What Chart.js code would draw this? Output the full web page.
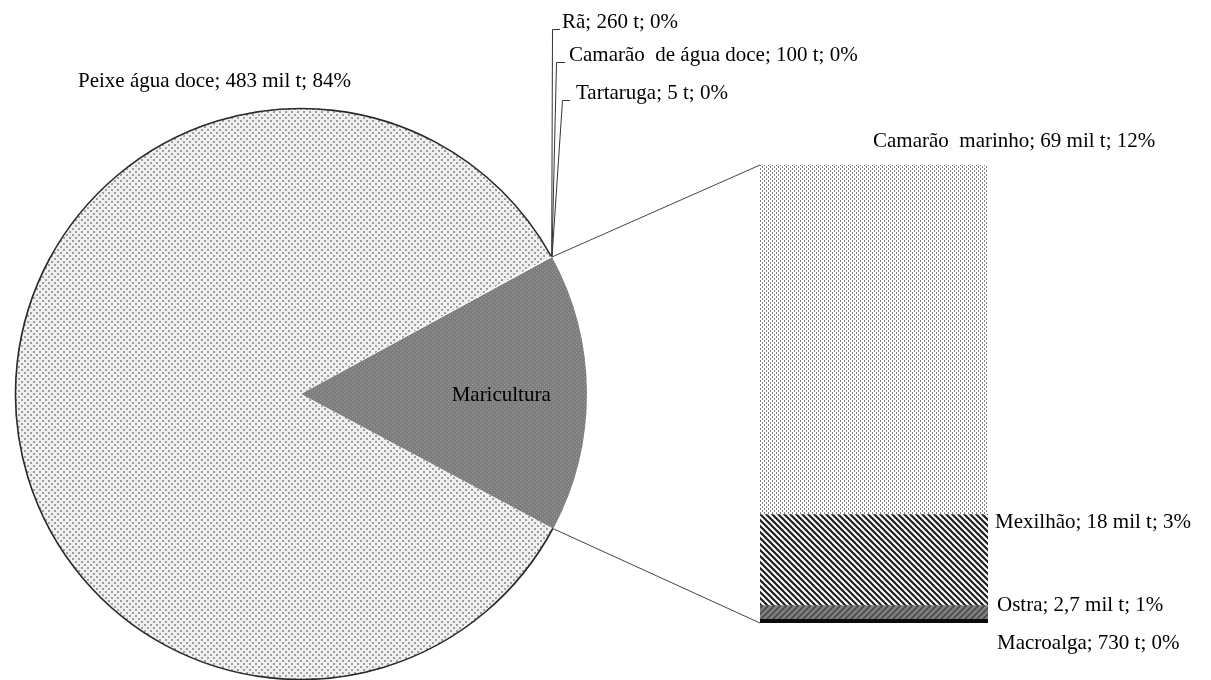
<!DOCTYPE html>
<html>
<head>
<meta charset="utf-8">
<script src="https://cdn.jsdelivr.net/npm/chart.js@4.4.1/dist/chart.umd.min.js"></script>
<style>
  html, body { margin: 0; padding: 0; background: #fff; }
  #wrap { position: relative; width: 1211px; height: 680px; overflow: hidden; background: #fff; }
  #wrap canvas { position: absolute; left: 0; top: 0; }
</style>
</head>
<body>
<div id="wrap">
  <canvas id="pie" width="1211" height="680"></canvas>
  <canvas id="bar" width="1211" height="680"></canvas>
</div>
<script>
// Produção aquícola, em mil toneladas
const pieCategories = ['Maricultura', 'Peixe água doce', 'Rã', 'Camarão de água doce', 'Tartaruga'];
const pieValues = [90.43, 483, 0.26, 0.1, 0.005];
const pieLabels = ['Maricultura', 'Peixe água doce; 483 mil t; 84%', 'Rã; 260 t; 0%', 'Camarão  de água doce; 100 t; 0%', 'Tartaruga; 5 t; 0%'];

// Detalhamento da maricultura (de baixo para cima na barra)
const barCategories = ['Macroalga', 'Ostra', 'Mexilhão', 'Camarão marinho'];
const barValues = [0.73, 2.7, 18, 69];
const barLabels = ['Macroalga; 730 t; 0%', 'Ostra; 2,7 mil t; 1%', 'Mexilhão; 18 mil t; 3%', 'Camarão  marinho; 69 mil t; 12%'];

const FONT = '21px "Liberation Serif", "Times New Roman", serif';

// --- fill patterns -------------------------------------------------------
function makePattern(ctx, w, h, draw) {
  const c = document.createElement('canvas');
  c.width = w; c.height = h;
  const g = c.getContext('2d');
  draw(g, w, h);
  return ctx.createPattern(c, 'repeat');
}

const pieCtx = document.getElementById('pie').getContext('2d');
const barCtx = document.getElementById('bar').getContext('2d');

const peixeFill = makePattern(pieCtx, 6, 6, (g) => {
  g.fillStyle = '#f0f0f0'; g.fillRect(0, 0, 6, 6);
  g.fillStyle = '#9e9e9e'; g.fillRect(0, 0, 2, 2); g.fillRect(3, 3, 2, 2);
});
const mariFill = makePattern(pieCtx, 4, 4, (g) => {
  g.fillStyle = '#7e7e7e'; g.fillRect(0, 0, 4, 4);
  g.fillStyle = '#9c9c9c'; g.fillRect(0, 0, 1, 1); g.fillRect(2, 2, 1, 1);
});

const camaraoFill = makePattern(barCtx, 4, 4, (g) => {
  g.fillStyle = '#ffffff'; g.fillRect(0, 0, 4, 4);
  g.fillStyle = '#808080'; g.fillRect(0, 0, 1, 2); g.fillRect(2, 2, 1, 2);
});
const mexilhaoFill = makePattern(barCtx, 6, 6, (g) => {
  g.fillStyle = '#ffffff'; g.fillRect(0, 0, 6, 6);
  g.strokeStyle = '#1e1e1e'; g.lineWidth = 2.2;
  g.beginPath();
  g.moveTo(-1, -1); g.lineTo(7, 7);
  g.moveTo(-1, 5); g.lineTo(1, 7);
  g.moveTo(5, -1); g.lineTo(7, 1);
  g.stroke();
});
const ostraFill = makePattern(barCtx, 6, 6, (g) => {
  g.fillStyle = '#808080'; g.fillRect(0, 0, 6, 6);
  g.strokeStyle = '#4a4a4a'; g.lineWidth = 1.6;
  g.beginPath();
  g.moveTo(-1, 7); g.lineTo(7, -1);
  g.moveTo(-1, 1); g.lineTo(1, -1);
  g.moveTo(5, 7); g.lineTo(7, 5);
  g.stroke();
});
const barFills = ['#0a0a0a', ostraFill, mexilhaoFill, camaraoFill];

// --- pie annotations -----------------------------------------------------
// label hooks for the tiny slices: [line end x, line end y, hook end x, text x, baseline]
const smallLabelPos = {
  2: [552, 29, 560, 562, 28],
  3: [556, 62, 565, 569, 61],
  4: [562, 100, 570, 576, 99]
};

const pieDecor = {
  id: 'pieDecor',
  afterDatasetsDraw(chart) {
    const ctx = chart.ctx;
    const arcs = chart.getDatasetMeta(0).data;
    ctx.save();

    // outline of the freshwater fish slice
    const p = arcs[1];
    ctx.beginPath();
    ctx.arc(p.x, p.y, p.outerRadius - 0.5, p.startAngle, p.endAngle);
    ctx.strokeStyle = '#2a2a2a';
    ctx.lineWidth = 1.6;
    ctx.stroke();

    ctx.font = FONT;
    ctx.fillStyle = '#000';

    // label inside the maricultura slice
    const m = arcs[0];
    const mid = (m.startAngle + m.endAngle) / 2;
    ctx.textAlign = 'center';
    ctx.textBaseline = 'middle';
    ctx.fillText(pieLabels[0], m.x + Math.cos(mid) * m.outerRadius * 0.7, m.y + Math.sin(mid) * m.outerRadius * 0.7 + 2);

    // freshwater fish label
    ctx.textAlign = 'left';
    ctx.textBaseline = 'alphabetic';
    ctx.fillText(pieLabels[1], 78, 87);

    // tiny slices with leader lines
    ctx.strokeStyle = '#333';
    ctx.lineWidth = 1;
    for (let i = 2; i <= 4; i++) {
      const a = arcs[i];
      const ang = (a.startAngle + a.endAngle) / 2;
      const sx = a.x + Math.cos(ang) * a.outerRadius;
      const sy = a.y + Math.sin(ang) * a.outerRadius;
      const [lx, ly, hx, tx, ty] = smallLabelPos[i];
      ctx.beginPath();
      ctx.moveTo(sx, sy);
      ctx.lineTo(lx + 0.5, ly + 0.5);
      ctx.lineTo(hx, ly + 0.5);
      ctx.stroke();
      ctx.fillText(pieLabels[i], tx, ty);
    }
    ctx.restore();
  }
};

const pieChart = new Chart(pieCtx, {
  type: 'pie',
  data: {
    labels: pieCategories,
    datasets: [{
      data: pieValues,
      backgroundColor: [mariFill, peixeFill, '#ffffff', '#ffffff', '#ffffff'],
      borderWidth: 0
    }]
  },
  options: {
    responsive: false,
    animation: false,
    rotation: 61.37,
    layout: { padding: { left: 15, right: 624, top: 108, bottom: 0 } },
    plugins: { legend: { display: false }, tooltip: { enabled: false } }
  },
  plugins: [pieDecor]
});

// --- bar annotations -----------------------------------------------------
const barLabelPos = [[997, 649], [997, 611], [995, 528], [873, 147]];

const barDecor = {
  id: 'barDecor',
  afterDatasetsDraw(chart) {
    const ctx = chart.ctx;
    const topBar = chart.getDatasetMeta(barValues.length - 1).data[0];
    const bottomBar = chart.getDatasetMeta(0).data[0];
    const left = topBar.x - topBar.width / 2;
    const m = pieChart.getDatasetMeta(0).data[0];

    ctx.save();
    // connectors from the maricultura slice to the bar
    ctx.strokeStyle = '#444';
    ctx.lineWidth = 1;
    ctx.beginPath();
    ctx.moveTo(m.x + Math.cos(m.startAngle) * m.outerRadius, m.y + Math.sin(m.startAngle) * m.outerRadius);
    ctx.lineTo(left, topBar.y);
    ctx.moveTo(m.x + Math.cos(m.endAngle) * m.outerRadius, m.y + Math.sin(m.endAngle) * m.outerRadius);
    ctx.lineTo(left, bottomBar.base);
    ctx.stroke();

    ctx.font = FONT;
    ctx.fillStyle = '#000';
    ctx.textAlign = 'left';
    ctx.textBaseline = 'alphabetic';
    barLabels.forEach((t, i) => ctx.fillText(t, barLabelPos[i][0], barLabelPos[i][1]));
    ctx.restore();
  }
};

const barTotal = barValues.reduce((s, v) => s + v, 0);

new Chart(barCtx, {
  type: 'bar',
  data: {
    labels: ['Maricultura'],
    datasets: barCategories.map((c, i) => ({
      label: c,
      data: [barValues[i]],
      backgroundColor: barFills[i],
      borderWidth: 0,
      barPercentage: 1,
      categoryPercentage: 1
    }))
  },
  options: {
    responsive: false,
    animation: false,
    layout: { padding: { left: 760, right: 223, top: 165, bottom: 57 } },
    scales: {
      x: { stacked: true, display: false },
      y: { stacked: true, display: false, min: 0, max: barTotal }
    },
    plugins: { legend: { display: false }, tooltip: { enabled: false } }
  },
  plugins: [barDecor]
});
</script>
</body>
</html>
